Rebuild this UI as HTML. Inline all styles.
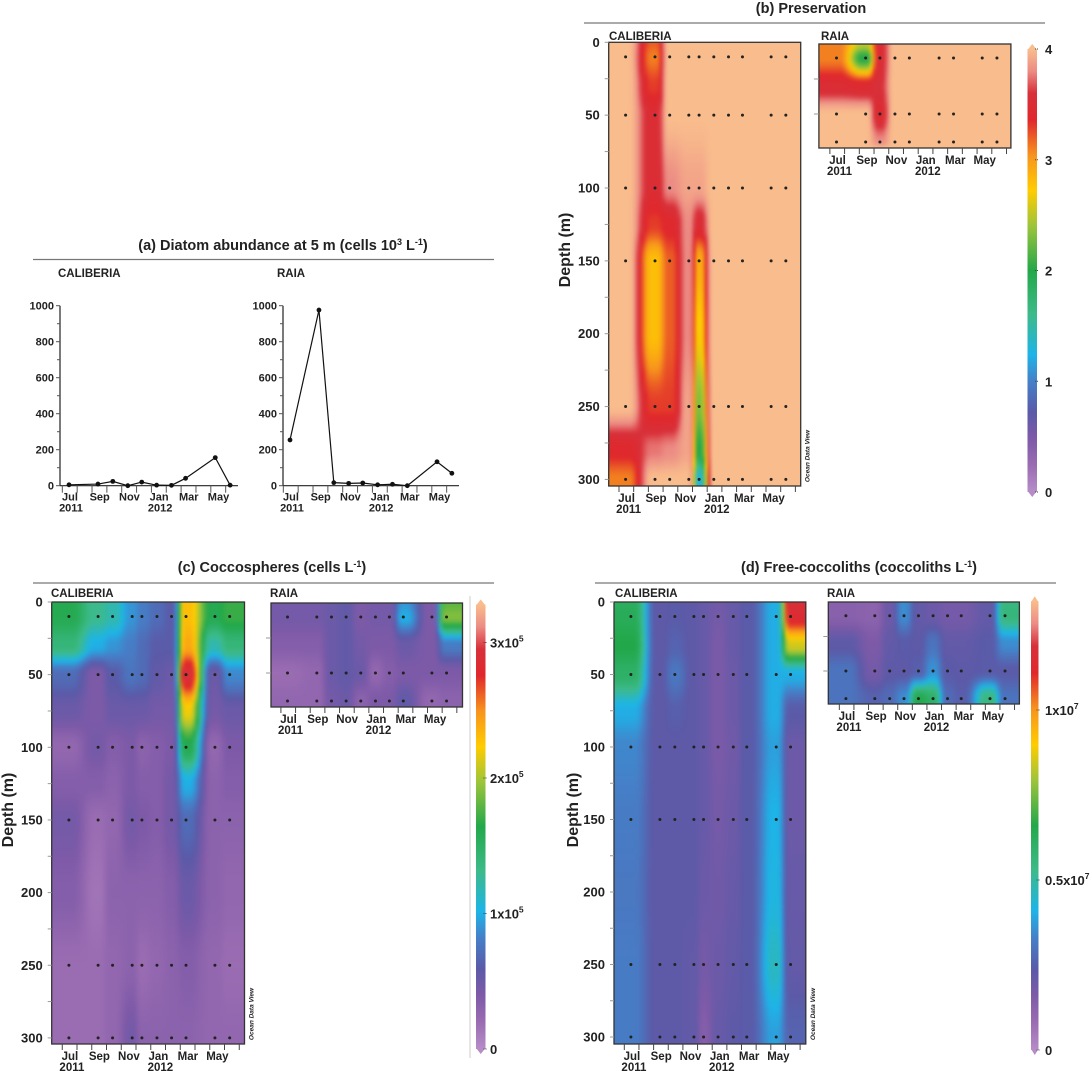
<!DOCTYPE html>
<html><head><meta charset="utf-8"><style>
html,body{margin:0;padding:0;background:#fff;}
svg{display:block;font-family:"Liberation Sans",sans-serif;}
text{fill:#222;font-weight:bold;}
</style></head><body>
<svg id="fig" width="1092" height="1071" viewBox="0 0 1092 1071">
<defs>
<filter id="soft" x="-5%" y="-5%" width="110%" height="110%" color-interpolation-filters="sRGB"><feGaussianBlur stdDeviation="1.6"/></filter>
<clipPath id="clip-bcal"><rect x="608.7" y="42.3" width="192" height="443.7"/></clipPath>
<clipPath id="clip-braia"><rect x="818.9" y="44" width="192" height="104"/></clipPath>
<clipPath id="clip-ccal"><rect x="51.7" y="602" width="192.8" height="442"/></clipPath>
<clipPath id="clip-craia"><rect x="271" y="603" width="191.5" height="104"/></clipPath>
<clipPath id="clip-dcal"><rect x="614" y="602" width="191.8" height="442"/></clipPath>
<clipPath id="clip-draia"><rect x="828.3" y="602" width="191.1" height="102"/></clipPath>
</defs>
<text x="283" y="250" font-size="14.5" text-anchor="middle">(a) Diatom abundance at 5 m (cells 10<tspan font-size="9" dy="-5">3</tspan><tspan dy="5"> L</tspan><tspan font-size="9" dy="-5">-1</tspan><tspan dy="5">)</tspan></text>
<line x1="33" y1="259.5" x2="494" y2="259.5" stroke="#777" stroke-width="1.2"/>
<text x="58" y="277" font-size="11.5">CALIBERIA</text>
<text x="277" y="277" font-size="11.5">RAIA</text>

<text x="811" y="13" font-size="14.5" text-anchor="middle">(b) Preservation</text>
<line x1="584" y1="23" x2="1045" y2="23" stroke="#777" stroke-width="1.2"/>
<text x="609" y="40" font-size="11.5">CALIBERIA</text>
<text x="821" y="40" font-size="11.5">RAIA</text>
<text transform="translate(570,250) rotate(-90)" font-size="16" text-anchor="middle">Depth (m)</text>

<text x="272" y="572" font-size="14.5" text-anchor="middle">(c) Coccospheres (cells L<tspan font-size="9" dy="-5">-1</tspan><tspan dy="5">)</tspan></text>
<line x1="33" y1="583" x2="494" y2="583" stroke="#777" stroke-width="1.2"/>
<text x="51" y="597" font-size="11.5">CALIBERIA</text>
<text x="270" y="597" font-size="11.5">RAIA</text>
<text transform="translate(13,810) rotate(-90)" font-size="16" text-anchor="middle">Depth (m)</text>
<line x1="470" y1="596" x2="470" y2="1058" stroke="#ccc" stroke-width="1"/>

<text x="859" y="572" font-size="14.5" text-anchor="middle">(d) Free-coccoliths (coccoliths L<tspan font-size="9" dy="-5">-1</tspan><tspan dy="5">)</tspan></text>
<line x1="595" y1="583" x2="1056" y2="583" stroke="#777" stroke-width="1.2"/>
<text x="615" y="597" font-size="11.5">CALIBERIA</text>
<text x="827" y="597" font-size="11.5">RAIA</text>
<text transform="translate(578,810) rotate(-90)" font-size="16" text-anchor="middle">Depth (m)</text>
</svg>
<script>
// ---------- Panel (a) data ----------
const aCalMonths = [0,1.95,2.95,3.96,4.9,5.9,6.9,7.85,9.85,10.85];
const aCalValues = [5,9,24,0,20,3,2,41,156,3];
const aRaiaMonths = [0,1.95,2.95,3.95,4.9,5.9,6.9,7.9,9.9,10.9];
const aRaiaValues = [254,976,17,13,15,5,8,0,133,69];
const aYTicks = [0,200,400,600,800,1000];
const monthNames = ['Jul','Sep','Nov','Jan','Mar','May'];
const monthLabelAt = [0,2,4,6,8,10];

// ---------- Panel (b) data (preservation index 0-4) ----------
const bCalMonths = [0,2,3,4.3,5,6,7,7.95,9.9,10.9];
const bCalDepths = [0,10,30,50,100,125,150,200,250,280,300];
const bCalValues = [
 [4,3.2,4,4,4,4,4,4,4,4],
 [4,3.1,4,4,4,4,4,4,4,4],
 [4,3.3,4,4,4,4,4,4,4,4],
 [4,3.5,4,4,4,4,4,4,4,4],
 [4,3.5,3.8,3.9,3.9,4,4,4,4,4],
 [4,3.3,3.4,3.8,3.5,4,4,4,4,4],
 [4,2.8,3.2,3.8,2.9,4,4,4,4,4],
 [4,2.8,3.2,3.8,2.7,4,4,4,4,4],
 [4,3.3,3.3,3.9,2.3,4,4,4,4,4],
 [3.4,3.75,3.8,3.9,2.0,4,4,4,4,4],
 [3.1,4,4,4,1.3,4,4,4,4,4]
];
const bRaiaMonths = [0,1.98,2.95,3.97,4.95,6.97,7.95,9.9,10.9];
const bRaiaDepths = [0,10,30,50,70,75];
const bRaiaValues = [
 [3.1,2.5,3.5,4,4,4,4,4,4],
 [3.1,2.0,3.5,4,4,4,4,4,4],
 [3.5,3.45,3.6,4,4,4,4,4,4],
 [4,4,3.45,4,4,4,4,4,4],
 [4,4,3.8,4,4,4,4,4,4],
 [4,4,4,4,4,4,4,4,4]
];
const bTicks = [0,1,2,3,4];

// ---------- Panel (c) data (x10^5 cells/L) ----------
const cCalMonths = [0,1.98,2.96,4.29,4.95,5.97,6.96,7.94,9.9,10.9];
const cCalDepths = [0,10,30,50,75,100,125,150,200,250,300];
const cCalValues = [
 [1.6,1.3,1.2,0.9,0.8,0.7,0.6,2.3,1.6,1.7],
 [1.6,1.3,1.2,0.9,0.8,0.7,0.6,2.3,1.6,1.7],
 [1.4,1.0,0.9,0.8,0.7,0.6,0.6,2.4,1.2,1.4],
 [0.7,0.4,0.6,0.75,0.7,0.55,0.5,2.95,0.5,0.85],
 [0.5,0.4,0.5,0.5,0.5,0.45,0.45,2.2,0.45,0.5],
 [0.25,0.45,0.35,0.4,0.3,0.35,0.4,1.6,0.25,0.4],
 [0.35,0.35,0.3,0.4,0.35,0.35,0.45,1.0,0.3,0.35],
 [0.45,0.2,0.25,0.45,0.4,0.35,0.45,0.7,0.3,0.3],
 [0.35,0.15,0.3,0.3,0.3,0.3,0.35,0.5,0.3,0.25],
 [0.2,0.2,0.25,0.3,0.2,0.25,0.3,0.35,0.25,0.2],
 [0.2,0.2,0.25,0.45,0.3,0.3,0.3,0.3,0.25,0.25]
];
const cRaiaMonths = [0,2,3,4,5,6,6.95,7.9,9.85,10.85];
const cRaiaDepths = [0,10,30,50,70,75];
const cRaiaValues = [
 [0.45,0.45,0.5,0.55,0.4,0.45,0.45,0.9,0.4,1.8],
 [0.45,0.45,0.5,0.55,0.4,0.45,0.45,1.0,0.4,1.9],
 [0.35,0.35,0.5,0.55,0.45,0.4,0.4,0.5,0.4,0.8],
 [0.2,0.25,0.5,0.55,0.5,0.25,0.35,0.4,0.4,0.4],
 [0.25,0.25,0.45,0.5,0.3,0.4,0.4,0.55,0.25,0.3],
 [0.25,0.25,0.45,0.5,0.3,0.4,0.4,0.55,0.25,0.3]
];
const cTicks = [0,1,2,3];
const cTickLabels = ['0','1x10','2x10','3x10'];

// ---------- Panel (d) data (x10^6 coccoliths/L) ----------
const dCalMonths = [0,1.98,3.0,4.3,4.96,5.95,6.99,7.91,9.92,10.9];
const dCalDepths = [0,10,30,50,75,100,150,200,250,300];
const dCalValues = [
 [6.2,2.3,2.4,2.3,2.1,1.9,2.1,2.4,4.0,11.8],
 [6.3,2.3,2.4,2.3,2.1,1.8,2.1,2.4,4.0,11.5],
 [6.6,2.3,2.6,2.3,2.1,1.7,2.1,2.4,4.0,8.5],
 [6.0,2.3,3.1,2.3,2.1,1.7,2.0,2.4,4.0,4.0],
 [4.0,2.3,2.5,2.3,2.1,1.7,2.0,2.4,4.0,2.4],
 [3.4,2.3,2.3,2.3,2.1,1.7,1.9,2.4,3.8,2.0],
 [3.2,2.3,2.3,2.3,2.1,1.8,2.0,2.4,4.1,2.0],
 [3.1,2.3,2.3,2.3,2.0,1.9,2.1,2.4,4.2,2.1],
 [3.2,2.3,2.3,2.2,1.8,2.0,2.2,2.4,4.6,2.2],
 [3.2,2.3,2.3,2.2,1.4,2.1,2.3,2.4,3.8,2.6]
];
const dRaiaMonths = [0,1.98,3.0,3.98,4.97,5.97,6.96,7.9,9.87,10.9];
const dRaiaDepths = [0,10,30,50,70,75];
const dRaiaValues = [
 [1.3,1.2,2.0,3.5,2.2,2.0,1.8,1.8,2.2,5.5],
 [1.3,1.2,2.0,3.5,2.2,2.0,1.8,1.8,2.2,5.6],
 [2.3,1.6,2.2,2.4,2.3,3.0,2.2,2.2,2.4,3.5],
 [3.0,1.8,2.3,2.3,2.5,3.6,2.4,2.3,2.4,2.4],
 [3.0,2.6,2.8,3.5,6.5,6.0,2.8,2.5,5.5,3.0],
 [3.0,2.6,2.8,3.5,6.5,6.0,2.8,2.5,5.5,3.0]
];
const dTicks = [0,5,10];
const dTickLabels = ['0','0.5x10','1x10'];

const depthTicks = [0,50,100,150,200,250,300];

// ---------- helpers ----------
const NS = 'http://www.w3.org/2000/svg';
const svg = document.getElementById('fig');
function mk(tag, parent){ const e = document.createElementNS(NS, tag); parent.appendChild(e); return e; }

const cmapStops = [
 [0,[182,140,200]],[0.06,[154,108,178]],[0.12,[126,90,168]],[0.18,[91,90,168]],
 [0.25,[69,128,200]],[0.31,[29,180,232]],[0.4,[61,186,138]],[0.5,[34,168,74]],
 [0.6,[156,196,58]],[0.68,[255,204,0]],[0.76,[247,148,29]],[0.84,[224,40,44]],
 [0.9,[216,48,58]],[0.95,[236,140,132]],[1,[249,188,140]]
];
function cmap(f){
  f = Math.max(0, Math.min(1, f));
  for (let i=0;i<cmapStops.length-1;i++){
    const a=cmapStops[i], b=cmapStops[i+1];
    if (f<=b[0]){
      const t=(f-a[0])/(b[0]-a[0]);
      const c=a[1].map((v,k)=>Math.round(v+(b[1][k]-v)*t));
      return 'rgb('+c.join(',')+')';
    }
  }
  return 'rgb(249,188,140)';
}
function weight(pos, p, frac){
  const n=pos.length;
  if (p<=pos[0]) return [0,0,0];
  if (p>=pos[n-1]) return [n-1,n-1,0];
  let i=0; while (p>pos[i+1]) i++;
  const gap=pos[i+1]-pos[i], mid=(pos[i]+pos[i+1])/2, W=gap*frac;
  let t=(p-(mid-W))/(2*W); t=Math.max(0,Math.min(1,t)); t=t*t*(3-2*t);
  return [i,i+1,t];
}

function heatmap(P, months, depths, values, vmax, dotMonths, dotDepths, name, clipId){
  const xs = months.map(m=>P.mx0+m*P.mpx);
  const ys = depths.map(d=>P.dy0+d*P.dpx);
  const g = mk('g', svg);
  
  
  g.setAttribute('clip-path', 'url(#'+clipId+')');
  const inner = mk('g', g);
  inner.setAttribute('filter', 'url(#soft)');
  const s = 3;
  for (let y=P.y0-3; y<P.y1+3; y+=s){
    const [r0,r1,ty] = weight(ys, y+s/2, 0.5);
    for (let x=P.x0-3; x<P.x1+3; x+=s){
      const [c0,c1,tx] = weight(xs, x+s/2, 0.36);
      const top = values[r0][c0]*(1-tx)+values[r0][c1]*tx;
      const bot = values[r1][c0]*(1-tx)+values[r1][c1]*tx;
      const v = top*(1-ty)+bot*ty;
      const r = mk('rect', inner);
      
      
      r.setAttribute('x', x); r.setAttribute('y', y);
      r.setAttribute('width', s+0.6); r.setAttribute('height', s+0.6);
      r.setAttribute('fill', cmap(v/vmax));
    }
  }
  dotDepths.forEach(d=>{
    dotMonths.forEach(m=>{
      const c = mk('circle', svg);
      
      
      c.setAttribute('cx', P.mx0+m*P.mpx); c.setAttribute('cy', P.dy0+d*P.dpx);
      c.setAttribute('r', 1.5); c.setAttribute('fill', '#222');
    });
  });
  const fr = mk('rect', svg);
  
  
  fr.setAttribute('x', P.x0); fr.setAttribute('y', P.y0);
  fr.setAttribute('width', P.x1-P.x0); fr.setAttribute('height', P.y1-P.y0);
  fr.setAttribute('fill', 'none'); fr.setAttribute('stroke', '#333'); fr.setAttribute('stroke-width', '1.3');
  for (let m=-1; m<=12; m++){
    const tx = P.mx0+(m-0.45)*P.mpx;
    if (tx<P.x0+1 || tx>P.x1) continue;
    const t = mk('line', svg);
    
    
    t.setAttribute('x1', tx); t.setAttribute('x2', tx);
    t.setAttribute('y1', P.y1); t.setAttribute('y2', P.y1+6);
    t.setAttribute('stroke', '#444'); t.setAttribute('stroke-width', '1');
  }
  monthLabelAt.forEach((m,i)=>{
    const t = mk('text', svg);
    
    
    t.setAttribute('x', P.mx0+m*P.mpx+1); t.setAttribute('y', P.y1+16);
    t.setAttribute('font-size', '11.5'); t.setAttribute('text-anchor', 'middle');
    t.textContent = monthNames[i];
  });
  [['2011',0],['2012',6]].forEach(([lab,m])=>{
    const t = mk('text', svg);
    
    
    t.setAttribute('x', P.mx0+m*P.mpx+3); t.setAttribute('y', P.y1+27);
    t.setAttribute('font-size', '11.5'); t.setAttribute('text-anchor', 'middle');
    t.textContent = lab;
  });
  if (P.depthLabels){
    depthTicks.forEach(d=>{
      const t = mk('text', svg);
      
      
      t.setAttribute('x', P.x0-9); t.setAttribute('y', P.dy0+d*P.dpx+4.5);
      t.setAttribute('font-size', '13'); t.setAttribute('text-anchor', 'end');
      t.textContent = d;
    });
    for (let d=0; d<=300; d+=25){
      const l = mk('line', svg);
      
      
      l.setAttribute('x1', P.x0-4); l.setAttribute('x2', P.x0);
      l.setAttribute('y1', P.dy0+d*P.dpx); l.setAttribute('y2', P.dy0+d*P.dpx);
      l.setAttribute('stroke', '#999'); l.setAttribute('stroke-width', '1');
    }
    const o = mk('text', svg);
    
    
    o.setAttribute('transform', 'translate('+(P.x1+9)+','+(P.y1-30)+') rotate(-90)');
    o.setAttribute('font-size', '6.5'); o.setAttribute('font-style', 'italic'); o.setAttribute('text-anchor', 'middle');
    o.textContent = 'Ocean Data View';
  } else {
    [25,50].forEach(d=>{
      const l = mk('line', svg);
      
      
      l.setAttribute('x1', P.x0-5); l.setAttribute('x2', P.x0);
      l.setAttribute('y1', P.dy0+d*P.dpx); l.setAttribute('y2', P.dy0+d*P.dpx);
      l.setAttribute('stroke', '#999'); l.setAttribute('stroke-width', '1');
    });
  }
}

function colorbar(C, ticks, labels, supers, vmax, name){
  const id = 'grad-'+name;
  const defs = svg.querySelector('defs');
  const lg = mk('linearGradient', defs);
  lg.setAttribute('id', id); lg.setAttribute('x1','0'); lg.setAttribute('y1','1'); lg.setAttribute('x2','0'); lg.setAttribute('y2','0');
  cmapStops.forEach(s=>{
    const st = mk('stop', lg);
    st.setAttribute('offset', s[0]); st.setAttribute('stop-color', 'rgb('+s[1].join(',')+')');
  });
  const yOf = v=>C.y0 - v*C.ppu;
  const top = yOf(vmax);
  const r = mk('rect', svg);
  
  
  r.setAttribute('x', C.x); r.setAttribute('y', top); r.setAttribute('width', C.w); r.setAttribute('height', C.y0-top);
  r.setAttribute('fill', 'url(#'+id+')');
  const pt = mk('polygon', svg);
  
  
  pt.setAttribute('points', C.x+','+(top+1)+' '+(C.x+C.w/2)+','+(top-5)+' '+(C.x+C.w)+','+(top+1));
  pt.setAttribute('fill', cmap(1));
  const pb = mk('polygon', svg);
  
  
  pb.setAttribute('points', C.x+','+(C.y0-1)+' '+(C.x+C.w/2)+','+(C.y0+5)+' '+(C.x+C.w)+','+(C.y0-1));
  pb.setAttribute('fill', cmap(0));
  ticks.forEach((v,i)=>{
    const y = yOf(v);
    const l = mk('line', svg);
    
    
    l.setAttribute('x1', C.x+C.w-2); l.setAttribute('x2', C.x+C.w+2); l.setAttribute('y1', y); l.setAttribute('y2', y);
    l.setAttribute('stroke', '#444'); l.setAttribute('stroke-dasharray', '1,1');
    const t = mk('text', svg);
    
    
    t.setAttribute('x', C.lx); t.setAttribute('y', y+5); t.setAttribute('font-size', '13');
    t.textContent = labels[i];
    if (supers && v!==0){
      const sp = mk('tspan', t);
      sp.setAttribute('font-size', '8.5'); sp.setAttribute('dy', '-6');
      sp.textContent = supers;
    }
  });
}

function lineChart(L, months, vals, name){
  const xOf = m=>L.mx0+m*L.mpx;
  const yOf = v=>L.y0 - v*L.ppu;
  const ax = mk('line', svg);
   
  ax.setAttribute('x1', L.ax); ax.setAttribute('x2', L.ax); ax.setAttribute('y1', yOf(1000)); ax.setAttribute('y2', L.y0);
  ax.setAttribute('stroke', '#222'); ax.setAttribute('stroke-width', '1.2');
  const bx = mk('line', svg);
   
  bx.setAttribute('x1', L.ax); bx.setAttribute('x2', L.axEnd); bx.setAttribute('y1', L.y0); bx.setAttribute('y2', L.y0);
  bx.setAttribute('stroke', '#222'); bx.setAttribute('stroke-width', '1.2');
  for (let v=0; v<=1000; v+=100){
    const l = mk('line', svg);
     
    l.setAttribute('x1', L.ax-(v%200===0?4:3)); l.setAttribute('x2', L.ax); l.setAttribute('y1', yOf(v)); l.setAttribute('y2', yOf(v));
    l.setAttribute('stroke', '#555');
  }
  aYTicks.forEach(v=>{
    const t = mk('text', svg);
     
    t.setAttribute('x', L.ax-6); t.setAttribute('y', yOf(v)+4); t.setAttribute('font-size', '11'); t.setAttribute('text-anchor', 'end');
    t.textContent = v;
  });
  for (let m=0; m<=12; m++){
    const tx = xOf(m-0.45);
    if (tx>L.axEnd) continue;
    const l = mk('line', svg);
     
    l.setAttribute('x1', tx); l.setAttribute('x2', tx); l.setAttribute('y1', L.y0); l.setAttribute('y2', L.y0+7);
    l.setAttribute('stroke', '#555');
  }
  monthLabelAt.forEach((m,i)=>{
    const t = mk('text', svg);
     
    t.setAttribute('x', xOf(m)+1); t.setAttribute('y', L.y0+15); t.setAttribute('font-size', '11'); t.setAttribute('text-anchor', 'middle');
    t.textContent = monthNames[i];
  });
  [['2011',0],['2012',6]].forEach(([lab,m])=>{
    const t = mk('text', svg);
     
    t.setAttribute('x', xOf(m)+2); t.setAttribute('y', L.y0+26); t.setAttribute('font-size', '11'); t.setAttribute('text-anchor', 'middle');
    t.textContent = lab;
  });
  const p = mk('polyline', svg);
   
  p.setAttribute('points', months.map((m,i)=>xOf(m)+','+yOf(vals[i])).join(' '));
  p.setAttribute('fill', 'none'); p.setAttribute('stroke', '#111'); p.setAttribute('stroke-width', '1.2');
  months.forEach((m,i)=>{
    const c = mk('circle', svg);
     
    c.setAttribute('cx', xOf(m)); c.setAttribute('cy', yOf(vals[i])); c.setAttribute('r', 2.4); c.setAttribute('fill', '#111');
  });
}

lineChart({ax:60, axEnd:238, y0:485.7, ppu:0.18, mx0:69, mpx:14.85}, aCalMonths, aCalValues, 'caliberia-diatom');
lineChart({ax:283, axEnd:459, y0:485.7, ppu:0.18, mx0:290, mpx:14.85}, aRaiaMonths, aRaiaValues, 'raia-diatom');

heatmap({x0:608.7,x1:800.7,y0:42.3,y1:486,mx0:625.6,mpx:14.7,dy0:42.3,dpx:1.457,depthLabels:true},
  bCalMonths, bCalDepths, bCalValues, 4, bCalMonths, [10,50,100,150,250,300], 'caliberia-preservation-heatmap', 'clip-bcal');
heatmap({x0:818.9,x1:1010.9,y0:44,y1:148,mx0:836.5,mpx:14.72,dy0:44,dpx:1.4,depthLabels:false},
  bRaiaMonths, bRaiaDepths, bRaiaValues, 4, bRaiaMonths, [10,50,70], 'raia-preservation-heatmap', 'clip-braia');
colorbar({x:1027.5, w:9.5, y0:492, ppu:110.75, lx:1045}, bTicks, ['0','1','2','3','4'], null, 4, 'preservation-colorbar');

heatmap({x0:51.7,x1:244.5,y0:602,y1:1044,mx0:68.9,mpx:14.75,dy0:602,dpx:1.453,depthLabels:true},
  cCalMonths, cCalDepths, cCalValues, 3.28, cCalMonths, [10,50,100,150,250,300], 'caliberia-coccosphere-heatmap', 'clip-ccal');
heatmap({x0:271,x1:462.5,y0:603,y1:707,mx0:287.5,mpx:14.66,dy0:603,dpx:1.4,depthLabels:false},
  cRaiaMonths, cRaiaDepths, cRaiaValues, 3.28, cRaiaMonths, [10,50,70], 'raia-coccosphere-heatmap', 'clip-craia');
colorbar({x:476, w:9.5, y0:1049, ppu:135.5, lx:490}, cTicks, cTickLabels, '5', 3.28, 'coccosphere-colorbar');

heatmap({x0:614,x1:805.8,y0:602,y1:1044,mx0:630.9,mpx:14.65,dy0:602,dpx:1.45,depthLabels:true},
  dCalMonths, dCalDepths, dCalValues, 13.2, dCalMonths, [10,50,100,150,250,300], 'caliberia-coccolith-heatmap', 'clip-dcal');
heatmap({x0:828.3,x1:1019.4,y0:602,y1:704,mx0:845.9,mpx:14.6,dy0:602,dpx:1.38,depthLabels:false},
  dRaiaMonths, dRaiaDepths, dRaiaValues, 13.2, dRaiaMonths, [10,50,70], 'raia-coccolith-heatmap', 'clip-draia');
colorbar({x:1031, w:7.5, y0:1050, ppu:34, lx:1045}, dTicks, dTickLabels, '7', 13.2, 'coccolith-colorbar');
</script>
</body></html>
